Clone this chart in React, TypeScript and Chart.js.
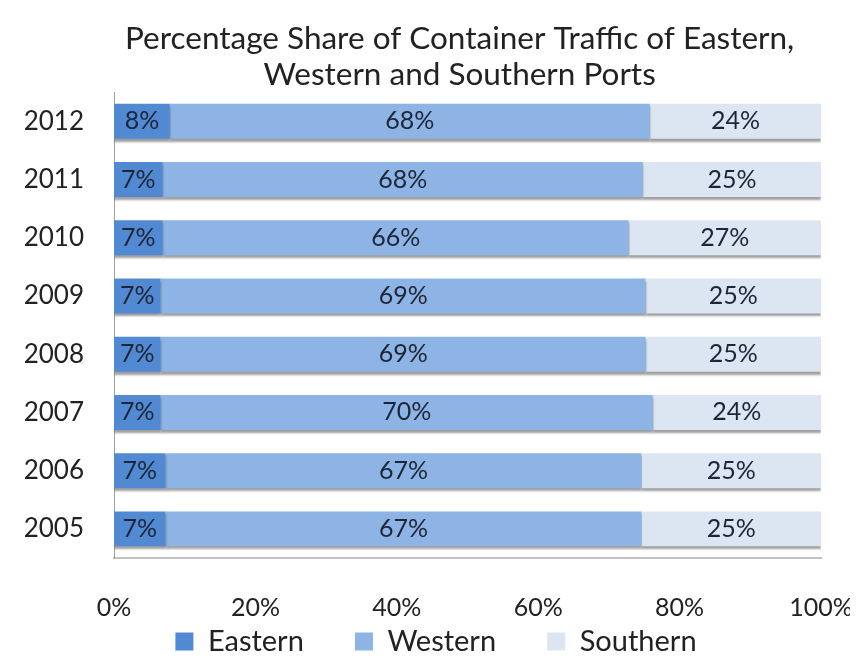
import React, { useEffect, useRef } from "react";
import { Chart, registerables } from "chart.js";

Chart.register(...registerables);

const years = ["2012", "2011", "2010", "2009", "2008", "2007", "2006", "2005"];
const eastern = [7.9, 6.9, 6.9, 6.6, 6.6, 6.6, 7.3, 7.3];
const western = [67.9, 67.9, 65.9, 68.6, 68.6, 69.6, 67.3, 67.3];
const southern = [24.2, 25.2, 27.2, 24.8, 24.8, 23.8, 25.4, 25.4];
const xTicks = [0, 20, 40, 60, 80, 100];

const FONT = "Lato, 'Open Sans', sans-serif";
const legendGaps = ["\u2003\u2003\u2009", "\u2003\u2003\u2009", ""];

const shadowPlugin = {
  id: "barShadow",
  beforeDatasetDraw(chart: any) {
    const ctx = chart.ctx;
    ctx.save();
    ctx.shadowColor = "rgba(80,80,80,0.55)";
    ctx.shadowBlur = 2;
    ctx.shadowOffsetX = 0;
    ctx.shadowOffsetY = 3;
  },
  afterDatasetDraw(chart: any) {
    chart.ctx.restore();
  },
};

const labelPlugin = {
  id: "segLabels",
  afterDatasetsDraw(chart: any) {
    const ctx = chart.ctx;
    ctx.save();
    ctx.font = `25px ${FONT}`;
    ctx.fillStyle = "#1c2638";
    ctx.textAlign = "center";
    ctx.textBaseline = "middle";
    chart.data.datasets.forEach((ds: any, di: number) => {
      const meta = chart.getDatasetMeta(di);
      meta.data.forEach((el: any, i: number) => {
        const p = el.getProps(["x", "y", "base"], true);
        const cx = (p.x + p.base) / 2;
        ctx.fillText(Math.round(ds.data[i]) + "%", cx, p.y);
      });
    });
    ctx.restore();
  },
};

export default function App() {
  const ref = useRef<HTMLCanvasElement>(null);
  useEffect(() => {
    if (!ref.current) return;
    const chart = new Chart(ref.current, {
      type: "bar",
      data: {
        labels: years,
        datasets: [
          { label: "Eastern", data: eastern, backgroundColor: "#5289d3" },
          { label: "Western", data: western, backgroundColor: "#8db4e4" },
          { label: "Southern", data: southern, backgroundColor: "#dce6f2" },
        ],
      },
      options: {
        indexAxis: "y",
        animation: false,
        responsive: true,
        maintainAspectRatio: false,
        layout: { padding: { left: 14, right: 0, top: 0, bottom: 0 } },
        datasets: { bar: { barPercentage: 0.6, categoryPercentage: 1 } },
        scales: {
          x: {
            stacked: true,
            min: 0,
            max: 100,
            afterBuildTicks: (axis: any) => {
              axis.ticks = xTicks.map((v) => ({ value: v }));
            },
            afterFit: (s: any) => {
              s.height = 65;
              s.paddingLeft = 0;
              s.paddingRight = 29;
            },
            grid: { display: false, drawTicks: false },
            border: { display: true, color: "#c0c0c0", width: 2 },
            ticks: {
              padding: 35,
              color: "#222",
              font: { family: FONT, size: 25 },
              callback: (v: any) => v + "%",
            },
          },
          y: {
            stacked: true,
            afterFit: (s: any) => {
              s.width = 92;
            },
            grid: { display: false, drawTicks: false },
            border: { display: true, color: "#a0a0a0", width: 1 },
            ticks: {
              padding: 30,
              color: "#222",
              font: { family: FONT, size: 26 },
            },
          },
        },
        plugins: {
          title: {
            display: true,
            text: [
              "\u2003\u2003Percentage Share of Container Traffic of Eastern,",
              "\u2003\u2003Western and Southern Ports",
            ],
            color: "#222",
            font: { family: FONT, size: 31.5, weight: "normal", lineHeight: 1.13 },
            padding: { top: 13, bottom: 0 },
          },
          legend: {
            position: "bottom",
            maxHeight: 32,
            labels: {
              boxWidth: 18,
              boxHeight: 18,
              padding: 4,
              color: "#222",
              font: { family: FONT, size: 29 },
              generateLabels: (c: any) =>
                Chart.defaults.plugins.legend.labels
                  .generateLabels(c)
                  .map((it: any, i: number) => ({
                    ...it,
                    text: it.text + (legendGaps[i] || ""),
                  })),
            },
          },
          tooltip: { enabled: false },
        },
      },
      plugins: [shadowPlugin, labelPlugin],
    } as any);
    return () => chart.destroy();
  }, []);
  return (
    <div style={{ width: 842, height: 647 }}>
      <canvas ref={ref} />
    </div>
  );
}
